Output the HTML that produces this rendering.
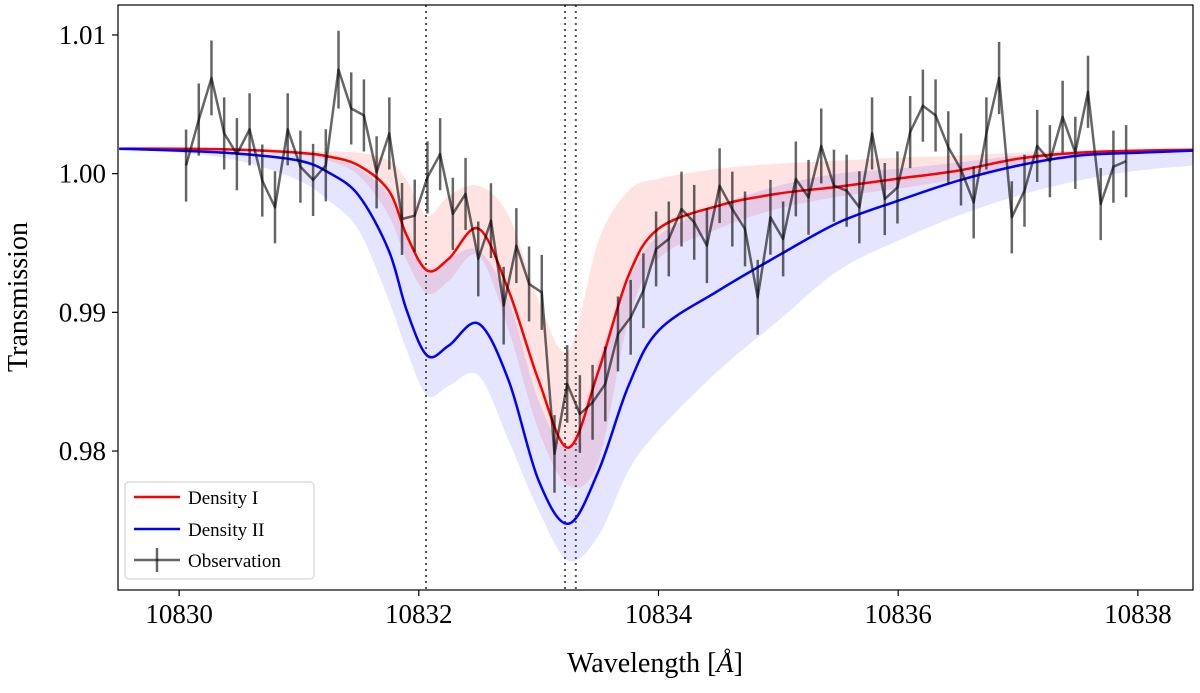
<!DOCTYPE html>
<html><head><meta charset="utf-8">
<style>
body{margin:0;background:#fff;}
svg text{font-family:"Liberation Serif","DejaVu Serif",serif;fill:#000;}
</style></head>
<body>
<svg id="chart" width="1200" height="688" viewBox="0 0 1200 688" xmlns="http://www.w3.org/2000/svg">
<defs><clipPath id="clip"><rect x="118" y="5" width="1075" height="585"/></clipPath></defs>
<g id="plot" clip-path="url(#clip)"></g>
<rect x="118" y="5" width="1075" height="585" fill="none" stroke="#000" stroke-width="1.2"/>
<g id="axes"></g>
<text x="655" y="672" font-size="28" text-anchor="middle">Wavelength [<tspan font-style="italic">Å</tspan>]</text>
<text transform="translate(27,297) rotate(-90)" font-size="28" text-anchor="middle">Transmission</text>
<g>
<rect x="125" y="482" width="189" height="97" rx="4" fill="#fff" fill-opacity="0.85" stroke="#ccc" stroke-width="1"/>
<g><line x1="134" y1="497" x2="180" y2="497" stroke="#f00" stroke-width="2.5"/><text x="188" y="504" font-size="19">Density I</text></g>
<g><line x1="134" y1="529" x2="180" y2="529" stroke="#00f" stroke-width="2.5"/><text x="188" y="536" font-size="19">Density II</text></g>
<g><line x1="134" y1="560" x2="180" y2="560" stroke="#000" stroke-opacity="0.6" stroke-width="2.5"/><line x1="157" y1="548" x2="157" y2="572" stroke="#000" stroke-opacity="0.6" stroke-width="2.5"/><text x="188" y="567" font-size="19">Observation</text></g>
</g>
</svg>
<script>
const xTicks=[10830,10832,10834,10836,10838];
const yTicks=[0.98,0.99,1.00,1.01];
const yTickLabels=["0.98","0.99","1.00","1.01"];
const lineCenters=[10832.06,10833.22,10833.31];
const modelWave=[10829.5,10830,10830.5,10831,10831.25,10831.5,10831.75,10831.9,10832.07,10832.25,10832.5,10832.75,10833,10833.25,10833.5,10833.75,10834,10834.5,10835,10835.5,10836,10836.5,10837,10837.5,10838,10838.46];
const densityI=[1.0018,1.0018,1.00173,1.00151,1.00123,1.00058,0.99877,0.99553,0.99301,0.99387,0.99603,0.99156,0.98508,0.98025,0.9858,0.99265,0.99603,0.99769,0.99856,0.99906,0.99964,1.00022,1.00108,1.00151,1.00166,1.00173];
const densityIUpper=[1.0018,1.0018,1.0018,1.00166,1.00159,1.00151,1.00094,0.9995,0.99697,0.99841,0.99913,0.99697,0.99084,0.98724,0.9952,0.99877,0.99964,1.00036,1.00072,1.00094,1.00115,1.0013,1.00151,1.00166,1.00173,1.0018];
const densityILower=[1.0018,1.0018,1.00166,1.00137,1.00094,0.99986,0.99697,0.99373,0.99135,0.99228,0.99409,0.98868,0.98147,0.9775,0.9793,0.98941,0.99387,0.99603,0.99748,0.99834,0.99892,0.99964,1.00058,1.00115,1.00151,1.00166];
const densityII=[1.0018,1.00166,1.00144,1.00094,1.00007,0.99841,0.99445,0.99012,0.98688,0.9876,0.98918,0.98507,0.97786,0.97476,0.97858,0.9847,0.98868,0.99156,0.99409,0.99647,0.99805,0.99949,1.00058,1.0013,1.00151,1.00166];
const densityIIUpper=[1.0018,1.0018,1.00166,1.00151,1.00108,1.00036,0.99841,0.99553,0.99286,0.99387,0.99445,0.99084,0.98363,0.98039,0.98652,0.99228,0.99553,0.99769,0.99913,1.0,1.00036,1.0008,1.0013,1.00159,1.00166,1.00173];
const densityIILower=[1.00166,1.00151,1.00094,0.9995,0.99805,0.99589,0.99084,0.98724,0.98399,0.98471,0.98543,0.98075,0.97570,0.9721,0.9739,0.97859,0.98147,0.98579,0.98940,0.99301,0.99517,0.99697,0.99841,0.99950,1.00022,1.00058];
const obsStart=10830.058, obsStep=0.106;
const obsValues=[1.00058,1.0039,1.0069,1.0029,1.0014,1.0032,0.9995,0.99757,1.0032,1.0005,0.99955,1.0006,1.0075,1.0047,1.0042,1.0001,1.0029,0.99673,0.99697,0.99973,1.0014,0.9971,0.99854,0.99385,0.99661,0.99048,0.99481,0.99205,0.99144,0.97979,0.98484,0.98267,0.98351,0.98484,0.98844,0.98964,0.99156,0.99457,0.99529,0.99745,0.99649,0.99481,0.99913,0.99745,0.99601,0.99108,0.99685,0.99529,0.99962,0.99829,1.002,0.99913,0.99877,0.99757,1.0029,0.99817,0.99901,1.003,1.0049,1.0042,1.0019,1.0003,0.99793,1.0029,1.0069,0.99685,0.99877,1.002,1.0009,1.0041,1.0015,1.0059,0.99781,1.0005,1.0009];
const obsErrors=[0.0026,0.0026,0.0027,0.0026,0.0026,0.0026,0.0026,0.0026,0.0026,0.0026,0.0026,0.0026,0.0028,0.0026,0.0026,0.0026,0.0026,0.0026,0.0026,0.0026,0.0026,0.0026,0.0026,0.0027,0.0027,0.0028,0.0027,0.0027,0.0027,0.0028,0.0028,0.0028,0.0027,0.0027,0.0027,0.0027,0.0027,0.0027,0.0027,0.0027,0.0027,0.0027,0.0027,0.0027,0.0027,0.0027,0.0027,0.0027,0.0027,0.0027,0.0027,0.0026,0.0026,0.0026,0.0026,0.0026,0.0026,0.0026,0.0026,0.0026,0.0026,0.0026,0.0026,0.0026,0.0026,0.0026,0.0026,0.0026,0.0026,0.0026,0.0026,0.0026,0.0026,0.0026,0.0026];

const NS="http://www.w3.org/2000/svg";
const X0=10829.49,X1=10838.46,Y0=0.96998,Y1=1.01216,PL=118,PR=1193,PT=5,PB=590;
function sx(w){return PL+(w-X0)/(X1-X0)*(PR-PL);}
function sy(v){return PB-(v-Y0)/(Y1-Y0)*(PB-PT);}
function mk(tag,attrs,parent){const e=document.createElementNS(NS,tag);for(const k in attrs)e.setAttribute(k,attrs[k]);parent.appendChild(e);return e;}
function spline(pts){let d="M"+pts[0][0].toFixed(1)+","+pts[0][1].toFixed(1);
 for(let i=0;i<pts.length-1;i++){const p0=pts[Math.max(0,i-1)],p1=pts[i],p2=pts[i+1],p3=pts[Math.min(pts.length-1,i+2)];
  const c1=[p1[0]+(p2[0]-p0[0])/6,p1[1]+(p2[1]-p0[1])/6],c2=[p2[0]-(p3[0]-p1[0])/6,p2[1]-(p3[1]-p1[1])/6];
  d+="C"+c1[0].toFixed(1)+","+c1[1].toFixed(1)+" "+c2[0].toFixed(1)+","+c2[1].toFixed(1)+" "+p2[0].toFixed(1)+","+p2[1].toFixed(1);}
 return d;}
function pts(vals){return modelWave.map((w,i)=>[sx(w),sy(vals[i])]);}
function band(up,lo){const a=spline(pts(up));const b=spline(pts(lo).reverse());return a+"L"+b.slice(1)+"Z";}
const plot=document.getElementById('plot'), axes=document.getElementById('axes');

const b1=mk('path',{d:band(densityIUpper,densityILower),fill:'#ff0000','fill-opacity':0.11,stroke:'none'},plot);


const b2=mk('path',{d:band(densityIIUpper,densityIILower),fill:'#0000ff','fill-opacity':0.1,stroke:'none'},plot);



lineCenters.forEach((c,i)=>{const l=mk('line',{x1:sx(c),x2:sx(c),y1:PT,y2:PB,stroke:'#555','stroke-width':2,'stroke-dasharray':'2,4'},plot);
 
 });

const r=mk('path',{d:spline(pts(densityI)),fill:'none',stroke:'#f00','stroke-width':2.5},plot);


const bl=mk('path',{d:spline(pts(densityII)),fill:'none',stroke:'#00f','stroke-width':2.5},plot);



const og=mk('g',{},plot);


let od="";
obsValues.forEach((v,i)=>{const w=obsStart+i*obsStep,x=sx(w);
 const e=mk('line',{x1:x,x2:x,y1:sy(v+obsErrors[i]),y2:sy(v-obsErrors[i]),stroke:'#000','stroke-opacity':0.6,'stroke-width':2.5},og);
 
 
 od+=(i?"L":"M")+x.toFixed(1)+","+sy(v).toFixed(1);});
const ol=mk('path',{d:od,fill:'none',stroke:'#000','stroke-opacity':0.6,'stroke-width':2.5,'stroke-linejoin':'round'},og);



xTicks.forEach(t=>{const x=sx(t);
 mk('line',{x1:x,x2:x,y1:PB,y2:PB+6,stroke:'#000','stroke-width':1.2},axes);
 const tx=mk('text',{x:x,y:PB+33,'font-size':27,'text-anchor':'middle'},axes);tx.textContent=t;
 
 });
yTicks.forEach((t,i)=>{const y=sy(t);
 mk('line',{x1:PL-6,x2:PL,y1:y,y2:y,stroke:'#000','stroke-width':1.2},axes);
 const tx=mk('text',{x:PL-12,y:y+9,'font-size':27,'text-anchor':'end'},axes);tx.textContent=yTickLabels[i];
 
 });
</script>
</body></html>
